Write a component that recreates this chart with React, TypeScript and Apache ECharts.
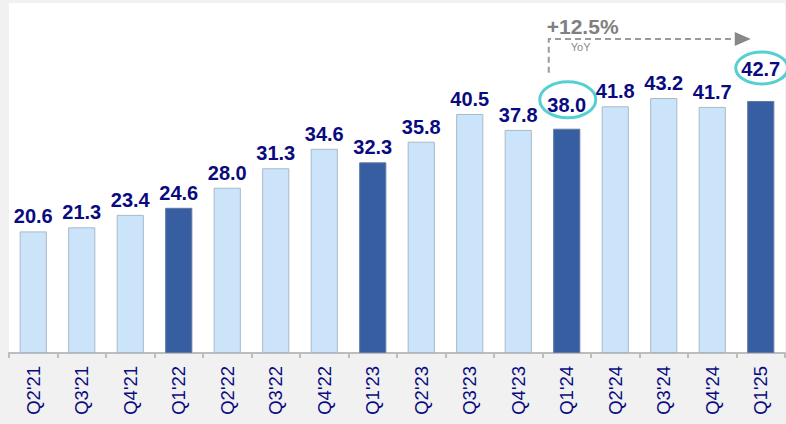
import React, { useEffect, useRef } from "react";
import * as echarts from "echarts";

const categories = [
  "Q2'21", "Q3'21", "Q4'21", "Q1'22", "Q2'22", "Q3'22", "Q4'22", "Q1'23",
  "Q2'23", "Q3'23", "Q4'23", "Q1'24", "Q2'24", "Q3'24", "Q4'24", "Q1'25",
];
const values = [20.6, 21.3, 23.4, 24.6, 28.0, 31.3, 34.6, 32.3, 35.8, 40.5, 37.8, 38.0, 41.8, 43.2, 41.7, 42.7];
const highlighted = [false, false, false, true, false, false, false, true, false, false, false, true, false, false, false, true];
const growthText = "+12.5%";
const growthSub = "YoY";
const fromIndex = 11;
const toIndex = 15;

const FONT = "'Liberation Sans', Arial, sans-serif";

export default function App() {
  const ref = useRef<HTMLDivElement>(null);
  useEffect(() => {
    if (!ref.current) return;
    const chart = echarts.init(ref.current, null, { renderer: "svg" });
    const data = values.map((v, i) => {
      const item: any = {
        value: v,
        itemStyle: highlighted[i]
          ? { color: "#365ea1", borderColor: "#5f7aa3", borderWidth: 1 }
          : { color: "#cce4fa", borderColor: "#a8b8ca", borderWidth: 1 },
      };
      if (i === fromIndex) item.label = { offset: [0, -9] };
      if (i === toIndex) item.label = { offset: [0, -17] };
      return item;
    });
    chart.setOption({
      animation: false,
      backgroundColor: "#f1f1f1",
      grid: {
        left: 9, right: 1, top: 3, bottom: 71,
        show: true, backgroundColor: "#ffffff", borderWidth: 0,
      },
      xAxis: {
        type: "category",
        data: categories,
        axisLine: { show: true, lineStyle: { color: "#bdbdbd", width: 2 } },
        axisTick: { show: true, length: 5, lineStyle: { color: "#bdbdbd", width: 2 } },
        axisLabel: {
          rotate: 90, color: "#0a0a80", fontSize: 18.5, fontFamily: FONT, margin: 13,
        },
      },
      yAxis: { type: "value", min: 0, max: 59.3, show: false, splitLine: { show: false } },
      series: [
        {
          type: "bar",
          data,
          barWidth: "56%",
          label: {
            show: true, position: "top", distance: 5,
            color: "#0a0a80", fontSize: 20, fontWeight: "bold", fontFamily: FONT,
            formatter: (p: any) => Number(p.value).toFixed(1),
          },
        },
      ],
    });

    const a = chart.convertToPixel({ seriesIndex: 0 }, [fromIndex, values[fromIndex]]) as number[];
    const b = chart.convertToPixel({ seriesIndex: 0 }, [toIndex, values[toIndex]]) as number[];
    const x0 = a[0] - 18;
    const yLine = b[1] - 62;
    const yVertEnd = a[1] - 56;
    const teal = "#55d0d0";
    chart.setOption({
      graphic: [
        {
          type: "polyline",
          shape: { points: [[x0, yVertEnd], [x0, yLine], [b[0] - 26, yLine]] },
          style: { stroke: "#9a9a9a", lineWidth: 2, lineDash: [6, 4], fill: null },
        },
        {
          type: "polygon",
          shape: { points: [[b[0] - 26, yLine - 7], [b[0] - 10, yLine], [b[0] - 26, yLine + 7]] },
          style: { fill: "#888888" },
        },
        {
          type: "text",
          x: x0 - 2, y: yLine - 12,
          style: {
            text: growthText, fill: "#808080", font: `bold 21px ${FONT}`,
            textAlign: "left", textVerticalAlign: "middle",
          },
        },
        {
          type: "text",
          x: x0 + 22, y: yLine + 8,
          style: {
            text: growthSub, fill: "#8a8a8a", font: `11px ${FONT}`,
            textAlign: "left", textVerticalAlign: "middle",
          },
        },
        {
          type: "ellipse",
          shape: { cx: a[0] + 1, cy: a[1] - 29, rx: 28, ry: 18 },
          style: { fill: null, stroke: teal, lineWidth: 3 },
        },
        {
          type: "ellipse",
          shape: { cx: b[0] + 1, cy: b[1] - 33, rx: 26, ry: 16 },
          style: { fill: null, stroke: teal, lineWidth: 3 },
        },
      ],
    });
    return () => chart.dispose();
  }, []);
  return (
    <div
      ref={ref}
      style={{ position: "fixed", left: 0, top: 0, width: 786, height: 424 }}
    />
  );
}
